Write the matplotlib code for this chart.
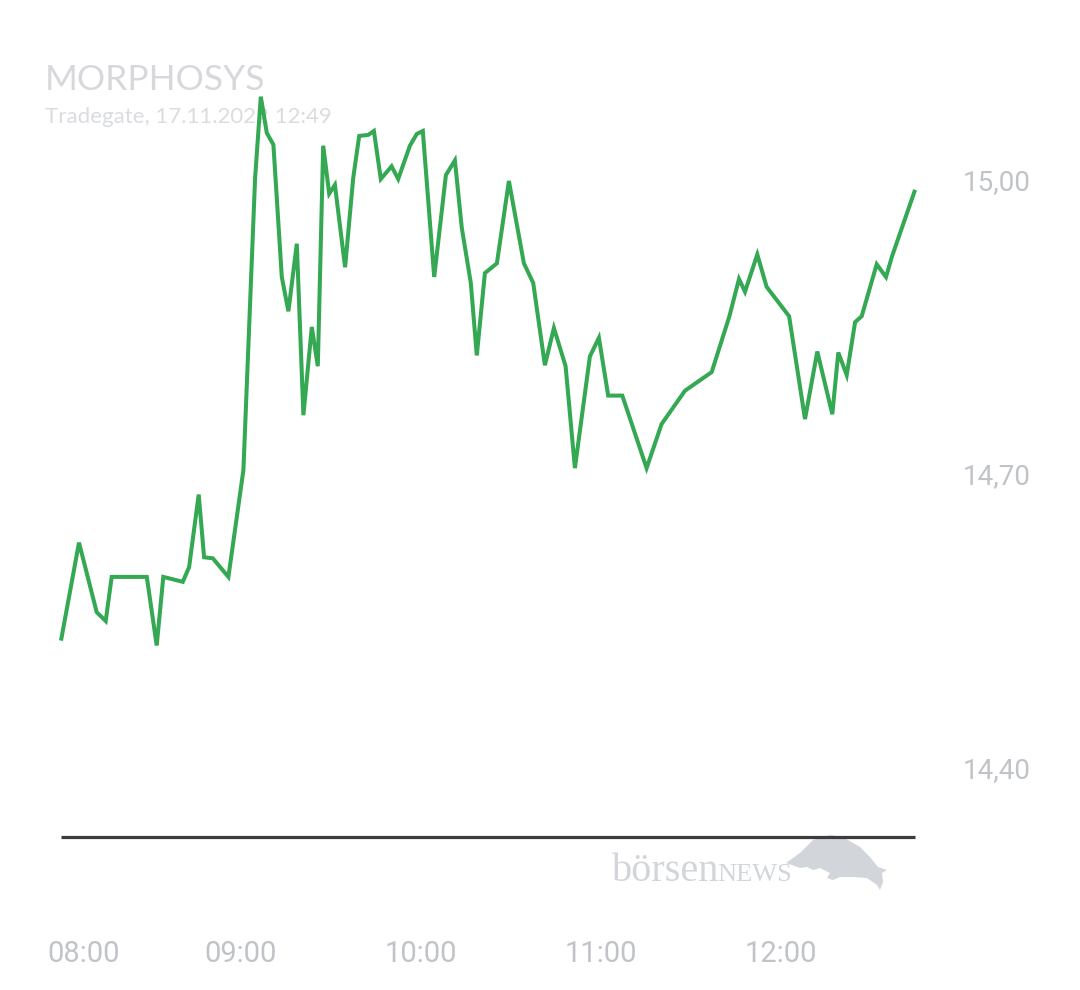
import matplotlib
matplotlib.use("Agg")
import matplotlib.pyplot as plt
import matplotlib.transforms as mtransforms
from matplotlib.patches import Polygon

# ---- data (minutes after 08:00, price in EUR) ----
minutes = [0, 6, 11.9, 14.9, 16.9, 28.6, 31.9, 34.1, 40.6, 42.7, 45.9, 47.7, 50.6, 55.8,
           60.8, 64.7, 66.6, 68.6, 70.8, 73.6, 75.8, 78.6, 80.8, 83.6, 85.6, 87.4, 89.4,
           91.3, 94.7, 97.4, 99.4, 102.4, 104.3, 106.6, 110.2, 112.4, 116.3, 118.6, 120.6,
           124.4, 128.3, 131.3, 133.6, 136.6, 138.6, 141.3, 145.3, 149.3, 154.3, 157.4,
           161.3, 164.3, 168.2, 171.3, 176.3, 179.3, 182.4, 187.1, 195.2, 200.2, 208.0,
           216.9, 222.8, 226.0, 228.0, 232.1, 235.2, 242.7, 248.0, 252.1, 257.1, 259.1,
           261.9, 264.7, 266.9, 271.9, 275.0, 277.0, 284.7]
prices = [14.530, 14.630, 14.559, 14.550, 14.595, 14.595, 14.525, 14.595, 14.590, 14.605,
          14.679, 14.615, 14.614, 14.595, 14.704, 15.002, 15.085, 15.048, 15.036, 14.901,
          14.866, 14.935, 14.760, 14.850, 14.810, 15.035, 14.986, 14.995, 14.911, 15.002,
          15.045, 15.046, 15.050, 15.001, 15.014, 15.001, 15.035, 15.047, 15.050, 14.901,
          15.005, 15.020, 14.951, 14.895, 14.821, 14.905, 14.915, 14.999, 14.915, 14.895,
          14.811, 14.849, 14.810, 14.706, 14.820, 14.839, 14.780, 14.780, 14.706, 14.751,
          14.785, 14.804, 14.861, 14.899, 14.886, 14.924, 14.891, 14.861, 14.756, 14.825,
          14.761, 14.824, 14.801, 14.855, 14.861, 14.914, 14.901, 14.922, 14.990]
x_ticks = [0, 60, 120, 180, 240]
x_labels = ["08:00", "09:00", "10:00", "11:00", "12:00"]
y_ticks = [14.40, 14.70, 15.00]
y_labels = ["14,40", "14,70", "15,00"]
baseline = 14.33
title = "MORPHOSYS"
subtitle = "Tradegate, 17.11.2022 12:49"

W, H = 1080, 990
fig = plt.figure(figsize=(W / 100, H / 100), dpi=100)
fig.patch.set_facecolor("white")

ax = fig.add_axes([0, 90 / H, 950 / W, 900 / H])
ax.set_zorder(5)
ax.patch.set_alpha(0)
ax.set_xlim(-61 / 3, (950 - 61) / 3)
ax.set_ylim(15 - 720 / 980, 15 + 180 / 980)

ax.plot(minutes, prices, color="#34a853", lw=2.9, solid_joinstyle="miter",
        solid_capstyle="butt", zorder=3)
ax.hlines(baseline, minutes[0], minutes[-1], color="#3c3c3c", lw=2.3, zorder=2)

for s in ax.spines.values():
    s.set_visible(False)

ax.yaxis.tick_right()
ax.set_yticks(y_ticks, y_labels)
ax.set_xticks(x_ticks, x_labels)
ax.tick_params(axis="y", length=0, pad=9.4, labelsize=20, labelcolor="#c0c3c8")
ax.tick_params(axis="x", length=0, pad=29, labelsize=21, labelcolor="#c0c3c8")
for lab in ax.get_xticklabels() + ax.get_yticklabels():
    lab.set_family("Roboto")
first = ax.get_xticklabels()[0]
first.set_transform(first.get_transform() +
                    mtransforms.ScaledTranslation(23 / 100, 0, fig.dpi_scale_trans))

# header
fig.text(45 / W, 1 - 90 / H, title, family="Lato", fontsize=25.5, color="#d6d8db",
         va="baseline", ha="left")
fig.text(45 / W, 1 - 123 / H, subtitle, family="Lato", fontsize=16, color="#dadce0",
         va="baseline", ha="left")

# watermark
fig.text(612 / W, 1 - 881 / H, "börsen", family="Liberation Serif", fontsize=29,
         color="#d2d5d9", va="baseline", ha="left")
fig.text(717 / W, 1 - 881 / H, "NEWS", family="Liberation Serif", fontsize=19,
         color="#d2d5d9", va="baseline", ha="left")
bull_px = [(786, 863), (800, 853), (813, 840), (830, 835), (843, 837), (860, 847),
           (870, 857), (878, 867), (887, 870), (882, 873), (883, 882), (880, 890),
           (877, 885), (867, 878), (853, 877), (840, 877), (833, 880), (827, 878),
           (830, 873), (820, 868), (813, 870), (807, 867), (800, 868)]
bull = Polygon([(x / W, 1 - y / H) for x, y in bull_px], closed=True,
               transform=fig.transFigure, facecolor="#d2d5d9", edgecolor="none",
               zorder=1)
fig.patches.append(bull)

fig.savefig("out.png", dpi=100)
